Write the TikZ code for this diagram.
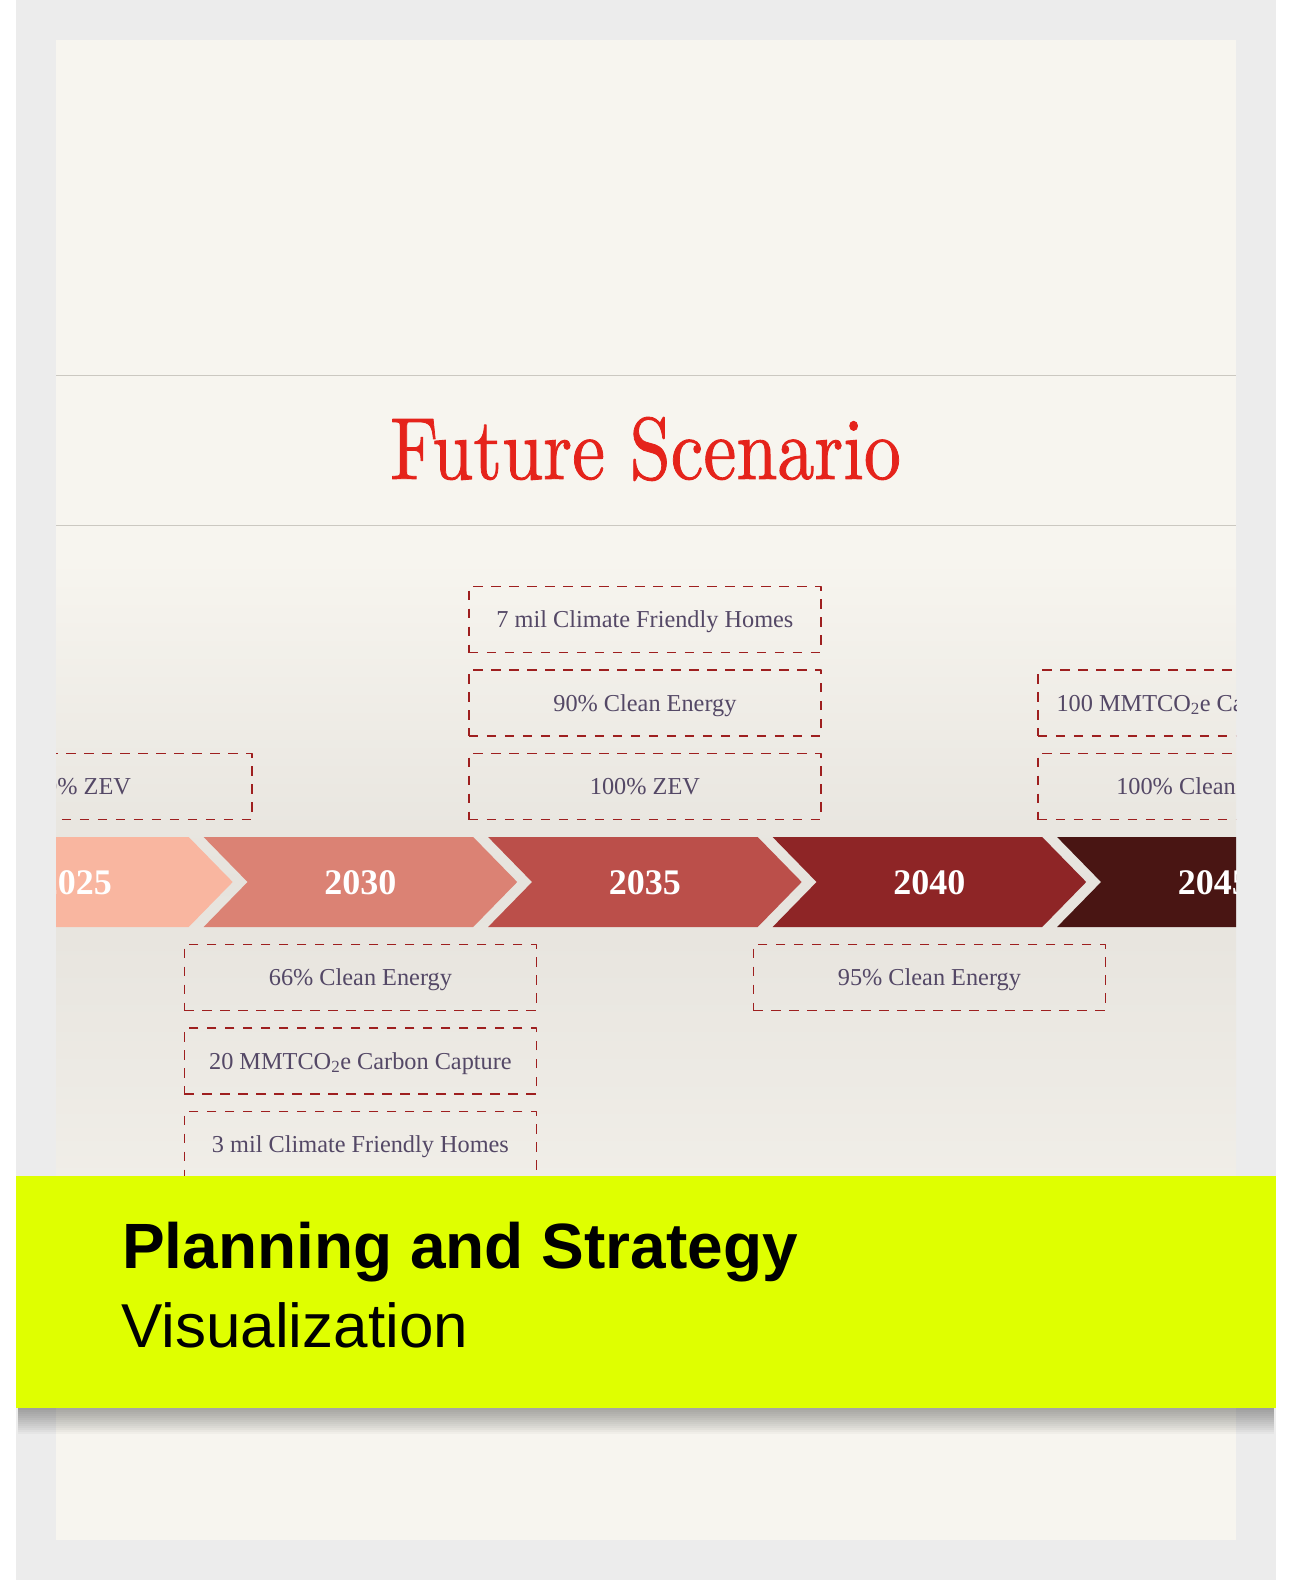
\documentclass[tikz,border=0pt]{standalone}
\usepackage{fontspec}
\newfontfamily\bandfont{Liberation Sans}
\newfontfamily\boxfont{Liberation Serif}
\newfontfamily\titlefont{lmroman10-regular.otf}[FakeBold=1]
\usetikzlibrary{positioning}
\definecolor{framegrey}{HTML}{ECECEC}
\definecolor{paper}{HTML}{F7F5EF}
\definecolor{paperdark}{HTML}{E6E3DD}
\definecolor{rulegrey}{HTML}{CBC8C1}
\definecolor{titlered}{HTML}{E5231B}
\definecolor{boxred}{HTML}{9E1F1F}
\definecolor{boxtext}{HTML}{544866}
\definecolor{lime}{HTML}{DFFF00}
\definecolor{c2025}{HTML}{F9B6A0}
\definecolor{c2030}{HTML}{DB8274}
\definecolor{c2035}{HTML}{BB4F4A}
\definecolor{c2040}{HTML}{8E2526}
\definecolor{c2045}{HTML}{491513}
\tikzset{
  goalbox/.style={draw=boxred, line width=1.8pt, dash pattern=on 9.5pt off 8.5pt,
    minimum width=352pt, minimum height=66pt, inner sep=0pt, outer sep=0pt,
    text=boxtext, font=\boxfont\fontsize{24.3}{27}\selectfont, text height=16.3pt, text depth=0pt},
  yearlabel/.style={text=white, font=\boxfont\bfseries\fontsize{36}{40}\selectfont,
    minimum width=313pt, minimum height=90pt, inner sep=0pt, outer sep=0pt,
    text height=24pt, text depth=0pt},
}
\begin{document}
\begin{tikzpicture}[x=1pt,y=-1pt,line join=round]
  \useasboundingbox (0,0) rectangle (1292,1580);
  \fill[white] (0,0) rectangle (1292,1580);
  \fill[framegrey] (16,0) rectangle (1276,1580);
  % the slide
  \fill[paper] (56,40) rectangle (1236,1540);
  \shade[top color=paper, bottom color=paperdark] (56,560) rectangle (1236,882);
  \shade[top color=paperdark, bottom color=paper!60!paperdark] (56,882) rectangle (1236,1176);
  \draw[rulegrey, line width=1pt] (56,375) -- (1236,375)
    (56,525) -- (1236,525);
  \node[text=titlered, font=\titlefont\fontsize{88}{90}\selectfont, xscale=0.84,
    anchor=base, inner sep=0pt] (title) at (645.5,479) {Future Scenario};
  \begin{scope}
    \clip (56,40) rectangle (1236,1540);
    \foreach \yr [count=\i from 0] in {2025,2030,2035,2040,2045}{
      \pgfmathsetmacro\lx{-80.9+284.5*\i}
      \fill[c\yr] (\lx,837) -- ++(269.6,0) -- ++(44,45) -- ++(-44,45)
        -- ++(-269.6,0) -- ++(44,-45) -- cycle;
      \node[yearlabel] (y\yr) at (\lx+156.8,882) {\yr};
    }
    % goals above the arrows
    \node[goalbox, above=17.5pt of y2025] (g2025a) {100\% ZEV};
    \node[goalbox, above=17.5pt of y2035] (g2035c) {100\% ZEV};
    \node[goalbox, above=17.5pt of g2035c] (g2035b) {90\% Clean Energy};
    \node[goalbox, above=17.5pt of g2035b] (g2035a) {7 mil Climate Friendly Homes};
    \node[goalbox, above=17.5pt of y2045] (g2045b) {100\% Clean Energy};
    \node[goalbox, above=17.5pt of g2045b] (g2045a) {100 MMTCO\textsubscript{2}e Carbon Capture};
    % goals below the arrows
    \node[goalbox, below=17.5pt of y2030] (g2030a) {66\% Clean Energy};
    \node[goalbox, below=17.5pt of g2030a] (g2030b) {20 MMTCO\textsubscript{2}e Carbon Capture};
    \node[goalbox, below=17.5pt of g2030b] (g2030c) {3 mil Climate Friendly Homes};
    \node[goalbox, below=17.5pt of y2040] (g2040a) {95\% Clean Energy};
  \end{scope}
  % band
  \foreach \k in {1,...,13}
    \fill[black, opacity=0.028] (18,1408) rectangle (1274,1408+2*\k);
  \fill[lime] (16,1176) rectangle (1276,1408);
  \node[anchor=base west, inner sep=0pt,
    font=\bandfont\bfseries\fontsize{64}{70}\selectfont] (bandtitle) at (122,1268) {Planning and Strategy};
  \node[anchor=base west, inner sep=0pt,
    font=\bandfont\fontsize{62}{66}\selectfont] (bandsub) at (121,1347) {Visualization};
\end{tikzpicture}
\end{document}
